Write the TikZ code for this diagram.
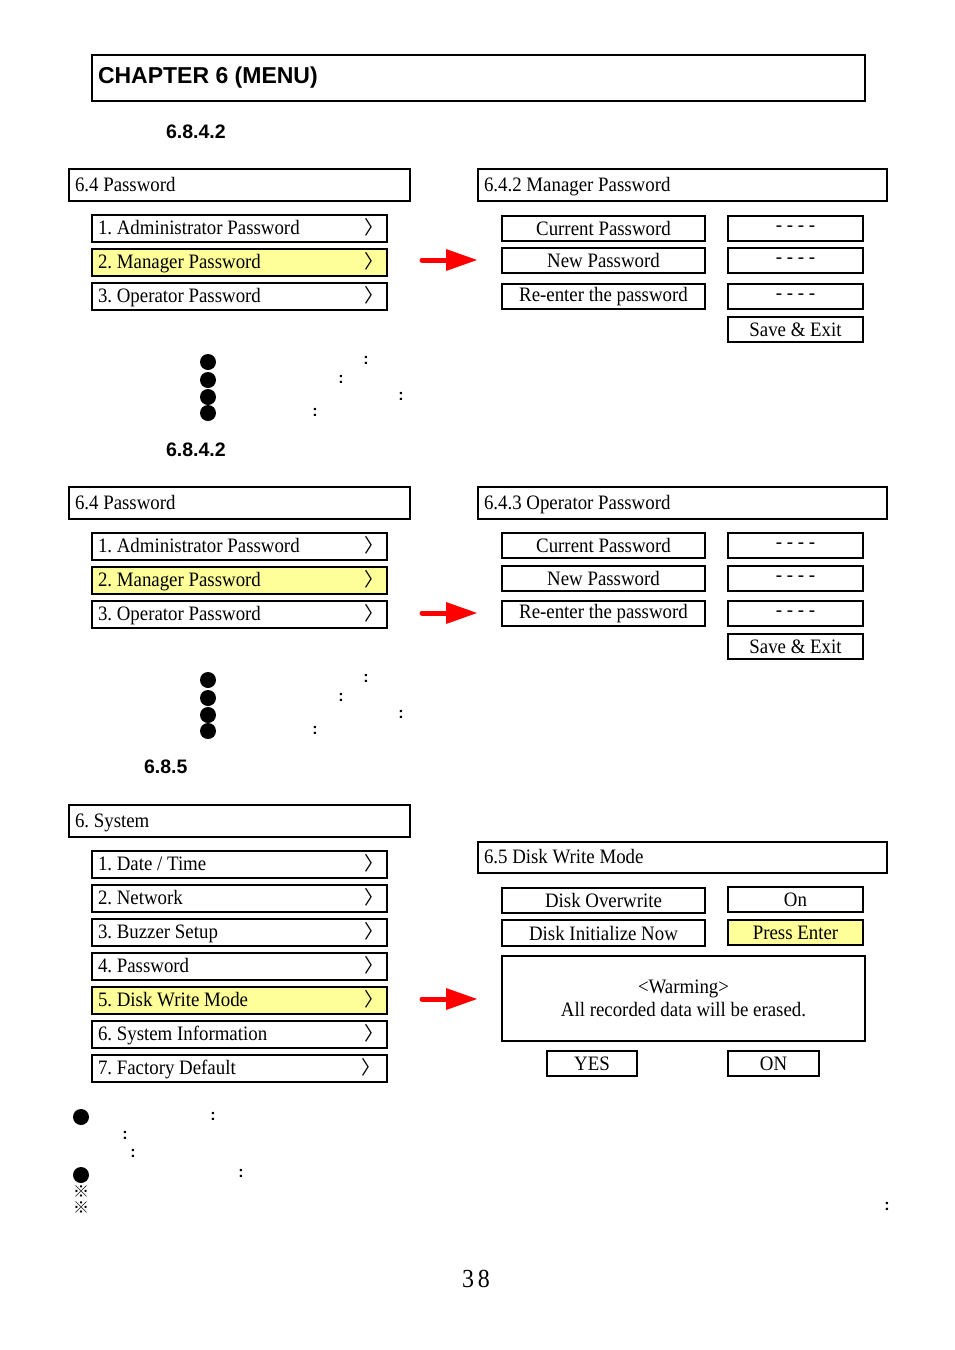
\documentclass[tikz,border=0pt]{standalone}
\usepackage{fontspec}
\setmainfont{Liberation Serif}[FakeStretch=0.92]
\newfontfamily\headfont{Liberation Sans}
\newfontfamily\cjk{Noto Sans CJK SC}
\usetikzlibrary{arrows.meta}
\definecolor{menuyellow}{RGB}{255,255,153}
\newcommand\menufont{\fontsize{20.5}{23}\selectfont}
\newcommand\chevfont{\cjk\fontsize{19}{23}\selectfont}
\newcommand\colonfont{\headfont\bfseries\fontsize{16}{18}\selectfont}
\tikzset{every picture/.style={line width=2pt}}
\tikzset{
  titlebox/.style={draw, anchor=north west, minimum height=32pt, inner sep=0pt},
  itembox/.style={draw, anchor=north west, minimum width=295pt, minimum height=27pt, inner sep=0pt},
  itemtext/.style={anchor=west, xshift=6pt, yshift=-1.5pt, inner sep=0pt, text height=12.5pt, text depth=3.5pt, font=\menufont},
  fieldbox/.style={draw, anchor=north west, minimum width=203pt, minimum height=25pt, inner sep=0pt, font=\menufont},
  valuebox/.style={draw, anchor=north west, minimum width=135pt, minimum height=25pt, inner sep=0pt, font=\menufont},
  picked/.style={fill=menuyellow},
  chevron/.style={font=\chevfont, inner sep=0pt},
  bulletdot/.style={circle, fill=black, inner sep=0pt, minimum size=16pt},
  colonmark/.style={font=\colonfont, inner sep=0pt},
  refmark/.style={font=\cjk\fontsize{16}{18}\selectfont, inner sep=0pt},
  sechead/.style={font=\headfont\bfseries\fontsize{19.5}{22}\selectfont, anchor=west, inner sep=0pt},
  redarrow/.style={draw=red, line width=5pt, line cap=round, -{Triangle[length=31pt,width=22pt,line width=0pt]}}
}

\begin{document}
\frenchspacing
\begin{tikzpicture}[x=1pt,y=1pt,yscale=-1,xscale=1]
		\useasboundingbox (0,0) rectangle (954,1350);

		% Chapter title
		\node (chapter) [draw, line width=1.5pt, anchor=north west, minimum width=773pt, minimum height=46pt, inner sep=0pt] at (91,54) {};
		\node (chaptert) [anchor=west, xshift=6pt, inner sep=0pt, font=\headfont\bfseries\fontsize{23}{26}\selectfont] at (chapter.west) {CHAPTER 6 (MENU)};

		%%%%%%%% 6.8.4.2 Manager Password
		\node (s1num) [sechead] at (165,132) {6.8.4.2};
		% Left menu
		\node (s1menu) [titlebox, minimum width=341pt] at (68,168) {};
		\node (s1menut) [itemtext] at (s1menu.west) {6.4 Password};
		\node (s1adm) [itembox] at (91,214) {};
		\node (s1mgr) [itembox, picked] at (91,248) {};
		\node (s1opr) [itembox] at (91,282) {};
		\node (s1admt) [itemtext] at (s1adm.west) {1. Administrator Password};
		\node (s1mgrt) [itemtext] at (s1mgr.west) {2. Manager Password};
		\node (s1oprt) [itemtext] at (s1opr.west) {3. Operator Password};
		\node (s1admc) [chevron] at (374,227.5) {〉};
		\node (s1mgrc) [chevron] at (374,261.5) {〉};
		\node (s1oprc) [chevron] at (374,295.5) {〉};
		% Arrow
		\coordinate (s1from) at (422,260);
		\coordinate (s1to) at (477,260);
		\draw [redarrow] (s1from) -- (s1to);
		% Right panel
		\node (s1panel) [titlebox, minimum width=409pt] at (477,168) {};
		\node (s1panelt) [itemtext] at (s1panel.west) {6.4.2 Manager Password};
		\node (s1cur) [fieldbox] at (501,215) {Current Password};
		\node (s1new) [fieldbox] at (501,247) {New Password};
		\node (s1re) [fieldbox] at (501,283) {Re-enter the password};
		\node (s1curv) [valuebox] at (727,215) {- - - -};
		\node (s1newv) [valuebox] at (727,247) {- - - -};
		\node (s1rev) [valuebox] at (727,283) {- - - -};
		\node (s1save) [valuebox] at (727,316) {Save \& Exit};
		% Notes
		\node (s1dot1) [bulletdot] at (208,362) {};
		\node (s1dot2) [bulletdot] at (208,380) {};
		\node (s1dot3) [bulletdot] at (208,397) {};
		\node (s1dot4) [bulletdot] at (208,413) {};
		\node (s1col1) [colonmark] at (366,360) {:};
		\node (s1col2) [colonmark] at (341,379) {:};
		\node (s1col3) [colonmark] at (401,396) {:};
		\node (s1col4) [colonmark] at (315,412) {:};

		%%%%%%%% 6.8.4.2 Operator Password
		\node (s2num) [sechead] at (165,450) {6.8.4.2};
		% Left menu
		\node (s2menu) [titlebox, minimum width=341pt] at (68,486) {};
		\node (s2menut) [itemtext] at (s2menu.west) {6.4 Password};
		\node (s2adm) [itembox] at (91,532) {};
		\node (s2mgr) [itembox, picked] at (91,566) {};
		\node (s2opr) [itembox] at (91,600) {};
		\node (s2admt) [itemtext] at (s2adm.west) {1. Administrator Password};
		\node (s2mgrt) [itemtext] at (s2mgr.west) {2. Manager Password};
		\node (s2oprt) [itemtext] at (s2opr.west) {3. Operator Password};
		\node (s2admc) [chevron] at (374,545.5) {〉};
		\node (s2mgrc) [chevron] at (374,579.5) {〉};
		\node (s2oprc) [chevron] at (374,613.5) {〉};
		% Arrow
		\coordinate (s2from) at (422,613);
		\coordinate (s2to) at (477,613);
		\draw [redarrow] (s2from) -- (s2to);
		% Right panel
		\node (s2panel) [titlebox, minimum width=409pt] at (477,486) {};
		\node (s2panelt) [itemtext] at (s2panel.west) {6.4.3 Operator Password};
		\node (s2cur) [fieldbox] at (501,532) {Current Password};
		\node (s2new) [fieldbox] at (501,565) {New Password};
		\node (s2re) [fieldbox] at (501,600) {Re-enter the password};
		\node (s2curv) [valuebox] at (727,532) {- - - -};
		\node (s2newv) [valuebox] at (727,565) {- - - -};
		\node (s2rev) [valuebox] at (727,600) {- - - -};
		\node (s2save) [valuebox] at (727,633) {Save \& Exit};
		% Notes
		\node (s2dot1) [bulletdot] at (208,680) {};
		\node (s2dot2) [bulletdot] at (208,698) {};
		\node (s2dot3) [bulletdot] at (208,715) {};
		\node (s2dot4) [bulletdot] at (208,731) {};
		\node (s2col1) [colonmark] at (366,678) {:};
		\node (s2col2) [colonmark] at (341,697) {:};
		\node (s2col3) [colonmark] at (401,714) {:};
		\node (s2col4) [colonmark] at (315,730) {:};

		%%%%%%%% 6.8.5 Disk Write Mode
		\node (s3num) [sechead] at (143,767) {6.8.5};
		% Left menu
		\node (s3menu) [titlebox, minimum width=341pt] at (68,804) {};
		\node (s3menut) [itemtext] at (s3menu.west) {6. System};
		\node (s3date) [itembox] at (91,850) {};
		\node (s3net) [itembox] at (91,884) {};
		\node (s3buzz) [itembox] at (91,918) {};
		\node (s3pass) [itembox] at (91,952) {};
		\node (s3disk) [itembox, picked] at (91,986) {};
		\node (s3info) [itembox] at (91,1020) {};
		\node (s3fact) [itembox] at (91,1054) {};
		\node (s3datet) [itemtext] at (s3date.west) {1. Date / Time};
		\node (s3nett) [itemtext] at (s3net.west) {2. Network};
		\node (s3buzzt) [itemtext] at (s3buzz.west) {3. Buzzer Setup};
		\node (s3passt) [itemtext] at (s3pass.west) {4. Password};
		\node (s3diskt) [itemtext] at (s3disk.west) {5. Disk Write Mode};
		\node (s3infot) [itemtext] at (s3info.west) {6. System Information};
		\node (s3factt) [itemtext] at (s3fact.west) {7. Factory Default};
		\node (s3datec) [chevron] at (374,863.5) {〉};
		\node (s3netc) [chevron] at (374,897.5) {〉};
		\node (s3buzzc) [chevron] at (374,931.5) {〉};
		\node (s3passc) [chevron] at (374,965.5) {〉};
		\node (s3diskc) [chevron] at (374,999.5) {〉};
		\node (s3infoc) [chevron] at (374,1033.5) {〉};
		\node (s3factc) [chevron] at (371,1067.5) {〉};
		% Arrow
		\coordinate (s3from) at (422,999);
		\coordinate (s3to) at (477,999);
		\draw [redarrow] (s3from) -- (s3to);
		% Right panel
		\node (s3panel) [titlebox, minimum width=409pt, minimum height=31pt] at (477,841) {};
		\node (s3panelt) [itemtext] at (s3panel.west) {6.5 Disk Write Mode};
		\node (s3ovr) [fieldbox] at (501,887) {Disk Overwrite};
		\node (s3ovrv) [valuebox] at (727,886) {On};
		\node (s3init) [fieldbox, minimum height=26pt] at (501,919) {Disk Initialize Now};
		\node (s3initv) [valuebox, picked] at (727,919) {Press Enter};
		\node (s3warn) [draw, anchor=north west, minimum width=363pt, minimum height=85pt, inner sep=0pt, align=center, font=\menufont] at (501,955) {<Warming>\\All recorded data will be erased.};
		\node (s3yes) [valuebox, minimum width=90pt] at (546,1050) {YES};
		\node (s3on) [valuebox, minimum width=91pt] at (727,1050) {ON};

		% Bottom notes
		\node (n1dot) [bulletdot] at (81,1117) {};
		\node (n2dot) [bulletdot] at (81,1175) {};
		\node (n1col) [colonmark] at (213,1116) {:};
		\node (n1col2) [colonmark] at (125,1135) {:};
		\node (n1col3) [colonmark] at (133,1153) {:};
		\node (n2col) [colonmark] at (241,1173) {:};
		\node (n3col) [colonmark] at (887,1206) {:};
		\node (n1ref) [refmark] at (81,1192) {※};
		\node (n2ref) [refmark] at (81,1208) {※};

		% Page number
		\node (pageno) [font=\fontsize{26}{28}\selectfont, inner sep=0pt] at (476,1279) {3\hspace{4pt}8};

	\end{tikzpicture}
\end{document}
